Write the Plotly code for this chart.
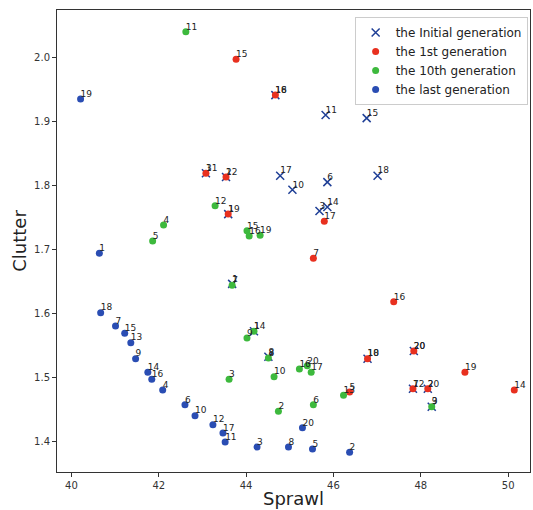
import plotly.graph_objects as go

# Initial generation (x markers)
init_labels = ["3", "2", "1", "1", "18", "11", "15", "17", "10", "6", "18", "3", "14",
               "1", "8", "18", "20", "7", "2", "3"]
init_x = [43.08, 43.54, 43.59, 43.68, 44.67, 45.82, 46.76, 44.78, 45.06, 45.86, 47.01, 45.68, 45.86,
          44.18, 44.51, 46.78, 47.84, 47.82, 48.16, 48.25]
init_y = [1.820, 1.814, 1.756, 1.647, 1.942, 1.911, 1.906, 1.816, 1.794, 1.806, 1.816, 1.761, 1.767,
          1.573, 1.533, 1.530, 1.542, 1.483, 1.483, 1.455]

# 1st generation (red)
g1_labels = ["15", "16", "11", "12", "19", "17", "7", "16", "10", "20", "19", "14", "12", "20", "5"]
g1_x = [43.77, 44.67, 43.08, 43.54, 43.59, 45.79, 45.54, 47.38, 46.78, 47.84, 49.01, 50.14, 47.82, 48.16, 46.37]
g1_y = [1.998, 1.942, 1.820, 1.814, 1.756, 1.745, 1.687, 1.619, 1.530, 1.542, 1.509, 1.481, 1.483, 1.483, 1.478]

# 10th generation (green)
g10_labels = ["11", "12", "4", "5", "15", "16", "19", "7", "9", "14", "8", "3", "10", "16", "20",
              "17", "2", "6", "13", "9"]
g10_x = [42.62, 43.29, 42.11, 41.86, 44.02, 44.07, 44.32, 43.68, 44.02, 44.18, 44.51, 43.61, 44.64,
         45.22, 45.40, 45.49, 44.74, 45.54, 46.23, 48.25]
g10_y = [2.041, 1.769, 1.739, 1.714, 1.730, 1.722, 1.723, 1.645, 1.5625, 1.573, 1.531, 1.498, 1.502,
         1.514, 1.519, 1.509, 1.448, 1.458, 1.473, 1.455]

# Last generation (blue)
gl_labels = ["19", "1", "18", "7", "15", "13", "9", "14", "16", "4", "6", "10", "12", "17", "11",
             "3", "8", "5", "2", "20"]
gl_x = [40.21, 40.64, 40.67, 41.01, 41.22, 41.36, 41.47, 41.75, 41.84, 42.09, 42.60, 42.83, 43.24,
        43.47, 43.52, 44.25, 44.97, 45.52, 46.37, 45.29]
gl_y = [1.936, 1.695, 1.602, 1.581, 1.570, 1.555, 1.530, 1.509, 1.498, 1.481, 1.458, 1.441, 1.427,
        1.414, 1.400, 1.392, 1.392, 1.389, 1.384, 1.422]

x_ticks = [40, 42, 44, 46, 48, 50]
y_ticks = [1.4, 1.5, 1.6, 1.7, 1.8, 1.9, 2.0]

FONT = "DejaVu Sans"
lab_font = dict(family=FONT, size=9, color="#222")

series = [
    ("the Initial generation", init_x, init_y, init_labels,
     dict(symbol="x-thin", size=8, line=dict(width=1.5, color="#1f3f96"), color="#1f3f96")),
    ("the 1st generation", g1_x, g1_y, g1_labels, dict(symbol="circle", size=7, color="#e8301f")),
    ("the 10th generation", g10_x, g10_y, g10_labels, dict(symbol="circle", size=7, color="#3db93d")),
    ("the last generation", gl_x, gl_y, gl_labels, dict(symbol="circle", size=7, color="#2a4db3")),
]

fig = go.Figure()
for name, xs, ys, labs, mk in series:
    fig.add_trace(go.Scatter(x=xs, y=ys, mode="markers", name=name, marker=mk))
    fig.add_trace(go.Scatter(x=xs, y=ys, text=labs, mode="text", showlegend=False,
                             textposition="top right", textfont=lab_font, hoverinfo="skip"))

axis_common = dict(showgrid=False, zeroline=False, showline=True, mirror=True,
                   linecolor="#333", linewidth=1, ticks="outside", ticklen=4,
                   tickcolor="#333", tickfont=dict(family=FONT, size=10, color="#333"))

fig.update_layout(
    width=533, height=510,
    margin=dict(l=57, r=3, t=10, b=38),
    paper_bgcolor="white", plot_bgcolor="white",
    font=dict(family=FONT),
    xaxis=dict(range=[39.67, 50.5], tickvals=x_ticks,
               title=dict(text="Sprawl", font=dict(family=FONT, size=18, color="#222"), standoff=2),
               **axis_common),
    yaxis=dict(range=[1.353, 2.075], tickvals=y_ticks, tickformat=".1f",
               title=dict(text="Clutter", font=dict(family=FONT, size=18, color="#222"), standoff=2),
               **axis_common),
    legend=dict(x=0.995, y=0.985, xanchor="right", yanchor="top",
                bgcolor="rgba(255,255,255,0.9)", bordercolor="#ccc", borderwidth=1,
                font=dict(family=FONT, size=12, color="#222"), tracegroupgap=0),
    showlegend=True,
)

fig.write_html("out.html")
